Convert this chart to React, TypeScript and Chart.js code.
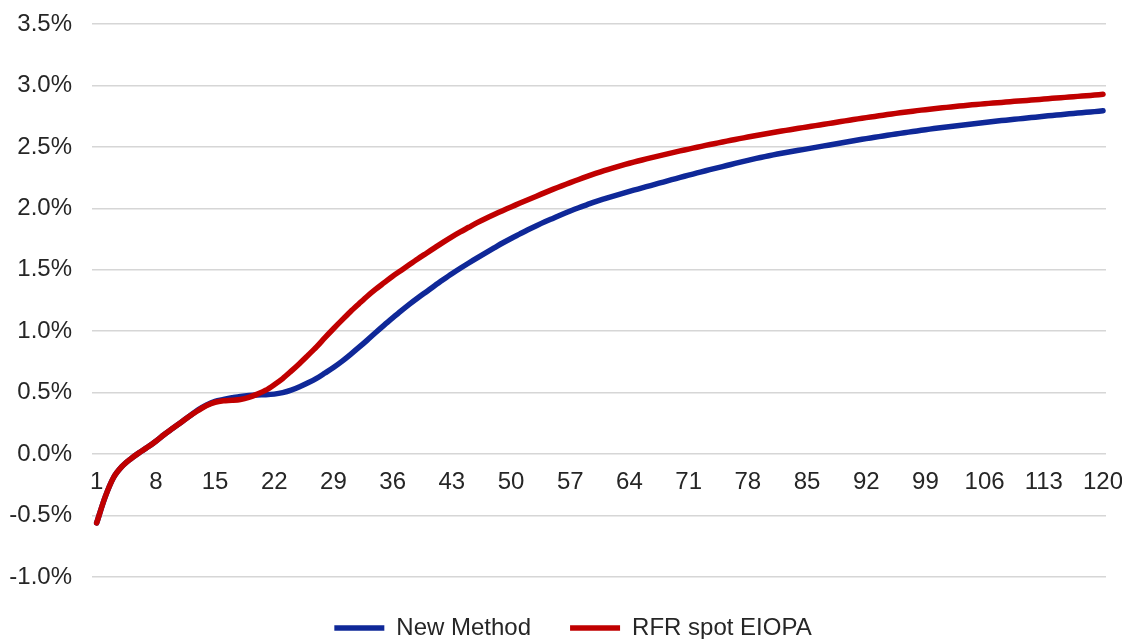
import React, { useEffect, useRef } from "react";
import { Chart, registerables } from "chart.js";

Chart.register(...registerables);

// Maturity in years (1..120)
const maturities: number[] = Array.from({ length: 120 }, (_, i) => i + 1);

// Labelled maturities on the horizontal axis
const xTickValues: number[] = [1, 8, 15, 22, 29, 36, 43, 50, 57, 64, 71, 78, 85, 92, 99, 106, 113, 120];

// Spot rates in percent
const newMethod: number[] = [
  -0.56, -0.35, -0.19, -0.10, -0.04, 0.01, 0.055, 0.105, 0.16, 0.21,
  0.26, 0.31, 0.36, 0.40, 0.43, 0.445, 0.458, 0.47, 0.478, 0.482,
  0.483, 0.488, 0.50, 0.52, 0.548, 0.58, 0.616, 0.66, 0.705, 0.755,
  0.81, 0.868, 0.928, 0.99, 1.05, 1.108, 1.165, 1.22, 1.272, 1.322,
  1.372, 1.42, 1.467, 1.512, 1.555, 1.597, 1.638, 1.678, 1.718, 1.755,
  1.79, 1.825, 1.858, 1.89, 1.92, 1.95, 1.978, 2.005, 2.03, 2.055,
  2.077, 2.098, 2.118, 2.138, 2.157, 2.176, 2.195, 2.214, 2.233, 2.252,
  2.27, 2.288, 2.306, 2.323, 2.34, 2.357, 2.374, 2.39, 2.406, 2.421,
  2.435, 2.448, 2.46, 2.472, 2.484, 2.496, 2.508, 2.52, 2.532, 2.544,
  2.556, 2.567, 2.578, 2.589, 2.6, 2.61, 2.62, 2.63, 2.64, 2.649,
  2.658, 2.666, 2.674, 2.682, 2.69, 2.698, 2.706, 2.714, 2.721, 2.728,
  2.735, 2.742, 2.749, 2.756, 2.762, 2.769, 2.775, 2.781, 2.787, 2.794,
];

const rfrSpotEiopa: number[] = [
  -0.56, -0.35, -0.19, -0.10, -0.04, 0.01, 0.055, 0.105, 0.16, 0.21,
  0.26, 0.31, 0.355, 0.395, 0.422, 0.434, 0.438, 0.445, 0.462, 0.488,
  0.52, 0.565, 0.615, 0.675, 0.738, 0.805, 0.873, 0.948, 1.02, 1.09,
  1.158, 1.222, 1.285, 1.342, 1.395, 1.448, 1.495, 1.543, 1.59, 1.635,
  1.68, 1.725, 1.768, 1.808, 1.846, 1.884, 1.918, 1.95, 1.981, 2.011,
  2.041, 2.07, 2.099, 2.128, 2.156, 2.183, 2.209, 2.235, 2.26, 2.284,
  2.307, 2.328, 2.348, 2.367, 2.385, 2.402, 2.419, 2.435, 2.451, 2.467,
  2.482, 2.497, 2.512, 2.526, 2.54, 2.554, 2.567, 2.58, 2.593, 2.605,
  2.617, 2.629, 2.64, 2.651, 2.662, 2.673, 2.684, 2.695, 2.706, 2.717,
  2.728, 2.738, 2.748, 2.758, 2.768, 2.777, 2.786, 2.795, 2.803, 2.811,
  2.818, 2.825, 2.832, 2.839, 2.845, 2.851, 2.857, 2.862, 2.868, 2.873,
  2.878, 2.884, 2.889, 2.895, 2.90, 2.906, 2.911, 2.916, 2.922, 2.928,
];

const FONT = "'Liberation Sans', Arial, sans-serif";
const TEXT = "#262626";
const FONT_SIZE = 24;

// Nudges the bottom legend horizontally after layout
const legendOffset = {
  id: "legendOffset",
  afterLayout(chart: any) {
    const legend = chart.legend;
    if (legend) {
      legend.left += 18;
      legend.right += 18;
    }
  },
};

export default function App() {
  const canvasRef = useRef<HTMLCanvasElement | null>(null);

  useEffect(() => {
    document.body.style.margin = "0";
    const canvas = canvasRef.current;
    if (!canvas) return;

    const chart = new Chart(canvas, {
      type: "line",
      data: {
        labels: maturities,
        datasets: [
          {
            label: "New Method",
            data: newMethod,
            borderColor: "#0f2898",
            backgroundColor: "#0f2898",
            borderWidth: 5.5,
            borderCapStyle: "round",
            borderJoinStyle: "round",
            pointRadius: 0,
            tension: 0.3,
            order: 1,
          },
          {
            label: "RFR spot EIOPA",
            data: rfrSpotEiopa,
            borderColor: "#c00000",
            backgroundColor: "#c00000",
            borderWidth: 5.5,
            borderCapStyle: "round",
            borderJoinStyle: "round",
            pointRadius: 0,
            tension: 0.3,
            order: 0,
          },
        ],
      },
      plugins: [legendOffset],
      options: {
        responsive: false,
        animation: false,
        layout: { padding: { top: 24, left: 4, right: 16, bottom: -11 } },
        scales: {
          x: {
            type: "linear",
            min: 0.45,
            max: 120.35,
            position: { y: 0 },
            grid: { display: false, drawTicks: false },
            border: { display: false },
            afterBuildTicks: (scale: any) => {
              scale.ticks = xTickValues.map((v) => ({ value: v }));
            },
            afterFit: (scale: any) => {
              scale.paddingLeft = 0;
              scale.paddingRight = 0;
            },
            ticks: {
              autoSkip: false,
              maxRotation: 0,
              padding: 14,
              color: TEXT,
              font: { family: FONT, size: FONT_SIZE },
              callback: (v: any) => String(v),
            },
          },
          y: {
            min: -1.0,
            max: 3.5,
            grid: { color: "#d6d6d6", lineWidth: 1.5, drawTicks: false },
            border: { display: false },
            afterFit: (scale: any) => {
              scale.width = 88;
              scale.paddingTop = 0;
              scale.paddingBottom = 0;
            },
            ticks: {
              stepSize: 0.5,
              padding: 20,
              color: TEXT,
              font: { family: FONT, size: FONT_SIZE },
              callback: (v: any) => Number(v).toFixed(1) + "%",
            },
          },
        },
        plugins: {
          tooltip: { enabled: false },
          legend: {
            position: "bottom",
            labels: {
              usePointStyle: true,
              pointStyle: "line",
              pointStyleWidth: 50,
              padding: 39,
              color: TEXT,
              font: { family: FONT, size: FONT_SIZE },
              sort: (a: any, b: any) => a.datasetIndex - b.datasetIndex,
            },
          },
        },
      },
    });

    return () => chart.destroy();
  }, []);

  return (
    <div style={{ width: 1122, height: 639 }}>
      <canvas ref={canvasRef} width={1122} height={639} />
    </div>
  );
}
